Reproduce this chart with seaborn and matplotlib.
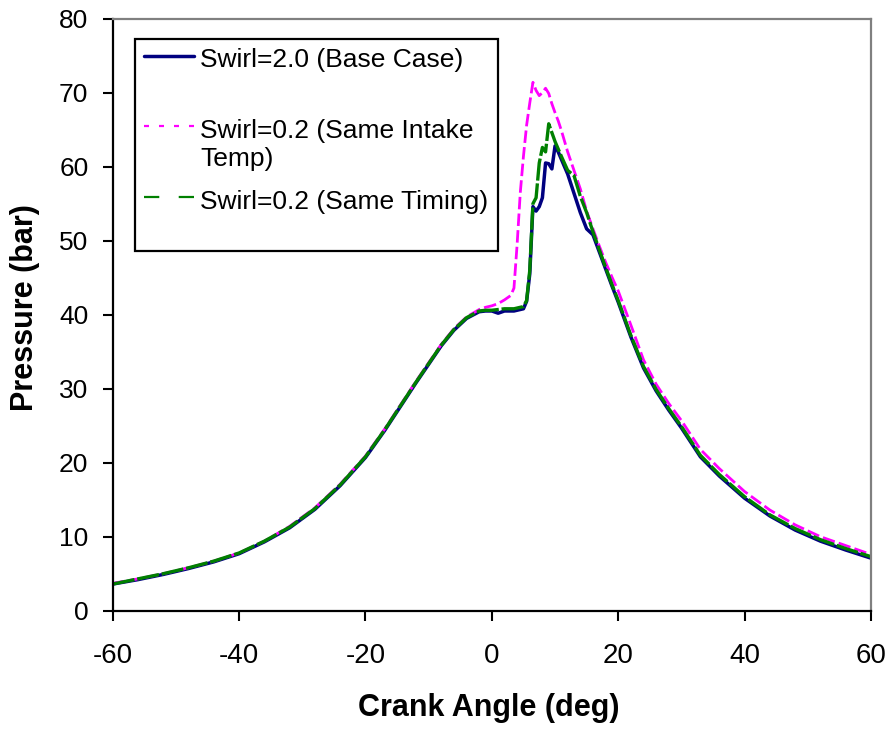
import numpy as np
import pandas as pd
import matplotlib
matplotlib.use("Agg")
import matplotlib.pyplot as plt
import seaborn as sns
from matplotlib.lines import Line2D
from matplotlib.legend_handler import HandlerLine2D

# ---------------- data ----------------
crank_angle = [-60, -56, -52, -48, -44, -40, -36, -32, -28, -24, -20, -17, -14, -12,
               -10, -8, -6, -4, -2, -1, 0, 1, 2, 3, 3.5, 4, 4.5, 5, 5.5, 6, 6.5,
               7, 7.5, 8, 8.5, 9, 9.5, 10, 10.5, 11, 12, 13, 14, 15, 16, 17, 18,
               19, 20, 22, 24, 26, 28, 30, 33, 36, 40, 44, 48, 52, 56, 60]

base_case = [3.6, 4.2, 4.9, 5.7, 6.6, 7.7, 9.3, 11.2, 13.7, 16.9, 20.7, 24.3, 28.2, 30.8,
             33.3, 35.8, 37.9, 39.5, 40.4, 40.5, 40.5, 40.2, 40.5, 40.5, 40.5, 40.6, 40.7,
             40.8, 41.8, 45.5, 54.6, 54.0, 54.6, 55.8, 60.5, 60.4, 59.7, 62.8, 62.0, 61.0,
             59.0, 56.4, 53.8, 51.6, 50.8, 48.5, 46.2, 43.9, 41.7, 37.0, 32.8, 29.7, 27.1,
             24.7, 20.8, 18.2, 15.2, 12.8, 10.9, 9.4, 8.2, 7.1]

same_intake_temp = [3.7, 4.3, 5.0, 5.8, 6.7, 7.8, 9.4, 11.4, 13.9, 17.1, 20.9, 24.5, 28.4, 31.0,
                    33.5, 36.0, 38.1, 39.7, 40.7, 41.0, 41.2, 41.5, 42.0, 42.6, 43.6, 49.5, 56.5,
                    61.4, 65.6, 68.6, 71.4, 70.3, 69.6, 70.0, 70.6, 69.9, 68.5, 67.3, 66.2, 64.9,
                    62.0, 59.5, 57.0, 54.0, 51.6, 49.3, 47.1, 45.1, 43.2, 38.6, 33.9, 30.6, 28.0,
                    25.7, 21.8, 19.2, 16.1, 13.6, 11.6, 10.0, 8.8, 7.6]

same_timing = [3.6, 4.3, 5.0, 5.8, 6.7, 7.8, 9.4, 11.3, 13.8, 17.0, 20.8, 24.4, 28.3, 30.9,
               33.4, 35.9, 38.0, 39.6, 40.5, 40.6, 40.6, 40.7, 40.8, 40.8, 40.8, 40.9, 41.0,
               41.1, 41.9, 46.0, 55.0, 55.8, 60.5, 62.6, 62.0, 65.8, 64.6, 63.4, 62.4, 61.4,
               59.5, 58.8, 56.0, 53.8, 51.2, 48.8, 46.4, 44.1, 41.9, 37.2, 33.0, 29.9, 27.3,
               24.9, 21.0, 18.4, 15.4, 12.95, 11.1, 9.6, 8.4, 7.3]

series_labels = ["Swirl=2.0 (Base Case)",
                 "Swirl=0.2 (Same Intake\nTemp)",
                 "Swirl=0.2 (Same Timing)"]
x_ticks = [-60, -40, -20, 0, 20, 40, 60]
y_ticks = [0, 10, 20, 30, 40, 50, 60, 70, 80]
x_label = "Crank Angle (deg)"
y_label = "Pressure (bar)"

# ---------------- style ----------------
sns.set_theme(style="white")
plt.rcParams["font.family"] = ["Liberation Sans", "DejaVu Sans"]
plt.rcParams["axes.unicode_minus"] = False
plt.rcParams["lines.scale_dashes"] = False
plt.rcParams["text.color"] = "black"
plt.rcParams["axes.labelcolor"] = "black"
plt.rcParams["xtick.color"] = "black"
plt.rcParams["ytick.color"] = "black"

NAVY = "#000080"
MAGENTA = "#FF00FF"
GREEN = "#008000"

fig = plt.figure(figsize=(8.92, 7.29), dpi=100)
fig.patch.set_facecolor("white")
ax = fig.add_axes([0.12635, 0.16228, 0.8501, 0.8121])
ax.set_facecolor("white")

df = pd.DataFrame({"angle": crank_angle, "base": base_case,
                   "intake": same_intake_temp, "timing": same_timing})

sns.lineplot(data=df, x="angle", y="base", ax=ax, color=NAVY, linewidth=2.5,
             estimator=None, sort=False, legend=False)
sns.lineplot(data=df, x="angle", y="intake", ax=ax, color=MAGENTA, linewidth=2.0,
             linestyle=(0, (9, 3)), estimator=None, sort=False, legend=False)
sns.lineplot(data=df, x="angle", y="timing", ax=ax, color=GREEN, linewidth=2.4,
             linestyle=(0, (16, 2)), estimator=None, sort=False, legend=False)

ax.set_xlim(-60, 60)
ax.set_ylim(0, 80)
ax.set_xticks(x_ticks)
ax.set_yticks(y_ticks)
ax.tick_params(axis="x", direction="out", length=7, width=1.5, colors="black",
               labelsize=20, pad=16, bottom=True, top=False)
ax.tick_params(axis="y", direction="out", length=7, width=1.5, colors="black",
               labelsize=19, pad=10.5, left=True, right=False)
for s in ["left", "bottom"]:
    ax.spines[s].set_color("black")
    ax.spines[s].set_linewidth(1.6)
for s in ["top", "right"]:
    ax.spines[s].set_color("#808080")
    ax.spines[s].set_linewidth(1.6)

ax.set_xlabel(x_label, fontsize=22, fontweight="bold", color="black")
ax.set_ylabel(y_label, fontsize=22, fontweight="bold", color="black")
ax.xaxis.set_label_coords(0.4956, -0.1385)
ax.yaxis.set_label_coords(-0.0963, 0.5123)


class RaisedHandler(HandlerLine2D):
    """Put the legend line next to the first text line of a two-line label."""
    def __init__(self, raise_em, **kw):
        super().__init__(**kw)
        self.raise_em = raise_em

    def create_artists(self, legend, orig_handle, xdescent, ydescent, width,
                       height, fontsize, trans):
        arts = super().create_artists(legend, orig_handle, xdescent, ydescent,
                                      width, height, fontsize, trans)
        for a in arts:
            a.set_ydata(np.asarray(a.get_ydata(), float) + self.raise_em * fontsize)
        return arts


h_base = Line2D([], [], color=NAVY, linewidth=2.5)
h_intake = Line2D([], [], color=MAGENTA, linewidth=1.6, linestyle=(0, (3.6, 7.2)))
h_timing = Line2D([], [], color=GREEN, linewidth=1.6, linestyle=(0, (11, 14)))

leg_labels = [series_labels[0] + "\n ", series_labels[1], series_labels[2] + "\n "]
raise_h = RaisedHandler(0.715)
leg = ax.legend([h_base, h_intake, h_timing], leg_labels,
                loc="upper left", bbox_to_anchor=(0.0294, 0.9657), borderaxespad=0,
                fontsize=19, frameon=True, fancybox=False, shadow=False,
                framealpha=1, edgecolor="black", borderpad=0.35, labelspacing=0.72,
                handlelength=1.9, handletextpad=0.22,
                handler_map={h_base: raise_h, h_intake: raise_h, h_timing: raise_h})
leg.get_frame().set_linewidth(1.6)
for t in leg.get_texts():
    t.set_color("black")

fig.savefig("out.png", dpi=100, facecolor="white")
